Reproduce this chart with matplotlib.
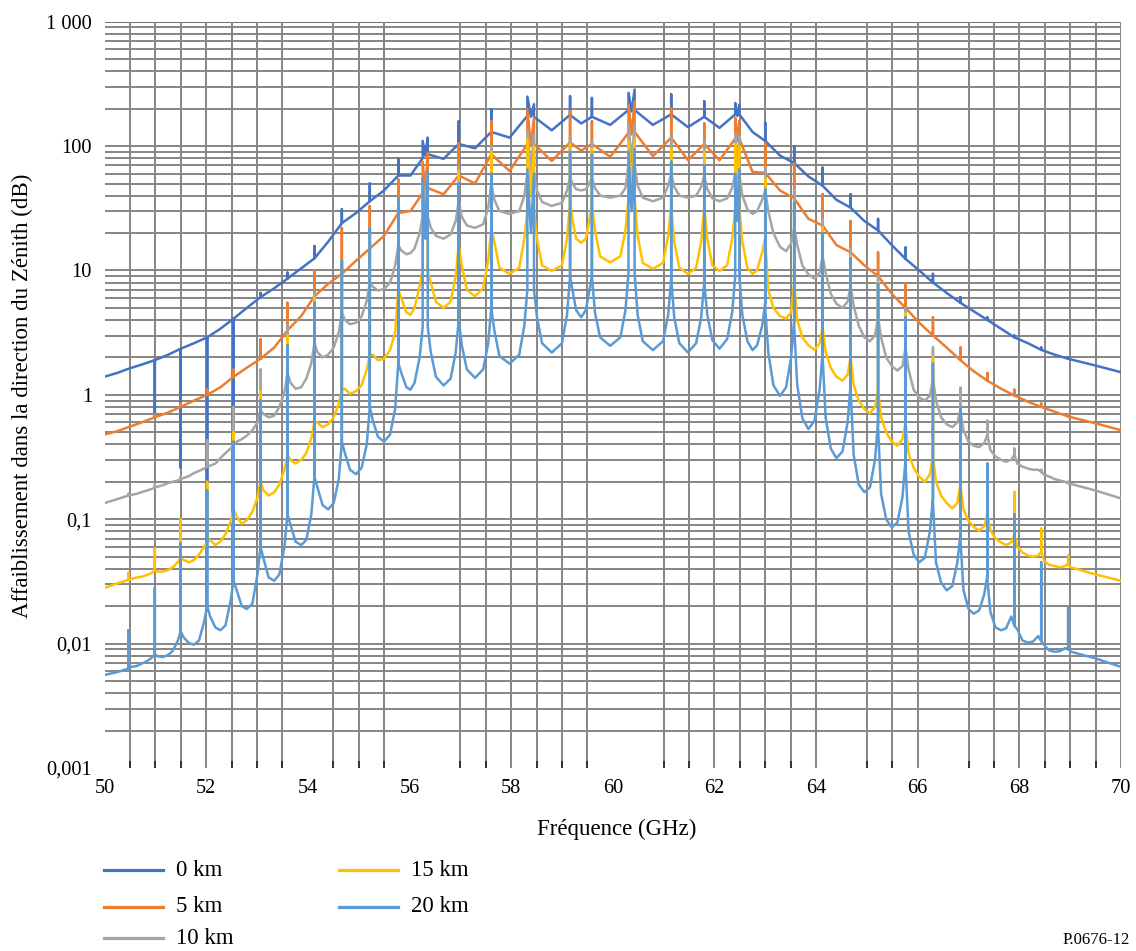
# Zenith attenuation 50-70 GHz for several altitudes (ITU-R P.676 style figure)

import matplotlib
matplotlib.use("Agg")
import matplotlib.pyplot as plt
from matplotlib.lines import Line2D
from matplotlib.ticker import NullLocator

plt.rcParams['font.family'] = ['Liberation Serif', 'DejaVu Serif']

# === Data ===
# frequency points for 0 km and 5 km (line base / spike / base, then mid-gap)
FREQ_A = [
    50.00, 50.25,
    50.47, 50.73,
    50.99, 50.99, 50.99, 51.25,
    51.50, 51.50, 51.50, 51.76,
    52.02, 52.02, 52.02, 52.28,
    52.54, 52.54, 52.54, 52.80,
    53.07, 53.07, 53.07, 53.34,
    53.60, 53.60, 53.60, 53.87,
    54.13, 54.13, 54.13, 54.40,
    54.67, 54.67, 54.67, 54.95,
    55.22, 55.22, 55.22, 55.50,
    55.78, 55.78, 55.78, 56.02,
    56.26, 56.26, 56.31, 56.36, 56.36, 56.67,
    56.97, 56.97, 56.97, 57.29,
    57.61, 57.61, 57.61, 57.97,
    58.32, 58.32, 58.39, 58.45, 58.45, 58.80,
    59.16, 59.16, 59.16, 59.38,
    59.59, 59.59, 59.59, 59.95,
    60.31, 60.31, 60.37, 60.43, 60.43, 60.79,
    61.15, 61.15, 61.15, 61.48,
    61.80, 61.80, 61.80, 62.10,
    62.41, 62.41, 62.45, 62.49, 62.49, 62.75,
    63.00, 63.00, 63.00, 63.29,
    63.57, 63.57, 63.57, 63.85,
    64.13, 64.13, 64.13, 64.40,
    64.68, 64.68, 64.68, 64.95,
    65.22, 65.22, 65.22, 65.49,
    65.76, 65.76, 65.76, 66.03,
    66.30, 66.30, 66.30, 66.57,
    66.84, 66.84, 66.84, 67.10,
    67.37, 67.37, 67.37, 67.64,
    67.90, 67.90, 67.90, 68.17,
    68.43, 68.43, 68.43, 68.70,
    68.96, 68.96, 68.96, 69.50, 70.00,
]

ATT_0KM = [
    1.40, 1.50,
    1.62, 1.75,
    1.90, 0.66, 1.90, 2.10,
    2.35, 0.26, 2.35, 2.60,
    2.90, 0.20, 2.90, 3.40,
    4.10, 0.80, 4.10, 5.00,
    6.10, 6.60, 6.10, 7.20,
    8.60, 9.60, 8.60, 10.4,
    12.5, 15.7, 12.5, 17.0,
    24.0, 31.0, 24.0, 29.0,
    36.0, 50.0, 36.0, 44.0,
    58.0, 79.0, 58.0, 58.0,
    80.0, 110, 84.0, 117, 86.0, 79.0,
    104, 158, 104, 96.0,
    130, 198, 130, 117,
    175, 250, 172, 217, 172, 134,
    178, 252, 178, 152,
    172, 244, 172, 148,
    195, 268, 190, 285, 195, 148,
    180, 261, 180, 142,
    172, 229, 172, 140,
    180, 222, 175, 215, 180, 130,
    110, 154, 110, 84.0,
    73.0, 100, 73.0, 57.0,
    48.0, 67.0, 48.0, 37.0,
    32.0, 41.0, 32.0, 25.0,
    21.0, 26.0, 21.0, 16.0,
    12.4, 15.3, 12.4, 10.0,
    8.0, 9.4, 8.0, 6.6,
    5.5, 6.1, 5.5, 4.7,
    4.0, 4.2, 4.0, 3.4,
    2.9, 3.0, 2.9, 2.6,
    2.3, 2.4, 2.3, 2.1,
    1.95, 2.0, 1.95, 1.72, 1.52,
]

ATT_5KM = [
    0.48, 0.51,
    0.55, 0.60,
    0.66, 0.70, 0.66, 0.72,
    0.80, 0.85, 0.80, 0.90,
    1.00, 1.10, 1.00, 1.15,
    1.40, 1.60, 1.40, 1.65,
    1.95, 2.80, 1.95, 2.40,
    3.30, 5.50, 3.30, 4.30,
    6.20, 10.0, 6.20, 7.80,
    9.40, 22.0, 9.40, 12.0,
    15.0, 33.0, 15.0, 19.0,
    29.0, 54.0, 29.0, 30.0,
    42.0, 75.0, 44.0, 88.0, 46.0, 41.0,
    58.0, 105, 58.0, 50.0,
    86.0, 158, 86.0, 63.0,
    104, 198, 100, 169, 104, 76.0,
    107, 191, 107, 92.0,
    104, 158, 104, 82.0,
    128, 217, 124, 228, 130, 83.0,
    117, 200, 117, 77.0,
    104, 152, 104, 77.0,
    115, 169, 110, 160, 115, 62.0,
    61.0, 105, 61.0, 44.0,
    38.0, 72.0, 38.0, 26.0,
    23.0, 41.0, 23.0, 16.0,
    14.0, 25.0, 14.0, 11.0,
    9.0, 14.0, 9.0, 6.5,
    5.0, 7.8, 5.0, 3.8,
    3.0, 4.2, 3.0, 2.4,
    1.90, 2.40, 1.90, 1.55,
    1.30, 1.50, 1.30, 1.12,
    0.99, 1.10, 0.99, 0.88,
    0.80, 0.85, 0.80, 0.73,
    0.67, 0.70, 0.67, 0.59, 0.52,
]

# frequency points for 10, 15, 20 km (line base / spike / base, then 5 points across the gap)
FREQ_B = [
    50.00, 50.25,
    50.47, 50.47, 50.47, 50.53, 50.63, 50.73, 50.83, 50.93,
    50.99, 50.99, 50.99, 51.05, 51.15, 51.25, 51.34, 51.44,
    51.50, 51.50, 51.50, 51.56, 51.66, 51.76, 51.86, 51.96,
    52.02, 52.02, 52.02, 52.08, 52.18, 52.28, 52.38, 52.48,
    52.54, 52.54, 52.54, 52.60, 52.70, 52.80, 52.91, 53.01,
    53.07, 53.07, 53.07, 53.13, 53.23, 53.34, 53.44, 53.54,
    53.60, 53.60, 53.60, 53.66, 53.76, 53.87, 53.97, 54.07,
    54.13, 54.13, 54.13, 54.19, 54.29, 54.40, 54.51, 54.61,
    54.67, 54.67, 54.67, 54.73, 54.83, 54.95, 55.06, 55.16,
    55.22, 55.22, 55.22, 55.28, 55.38, 55.50, 55.62, 55.72,
    55.78, 55.78, 55.78, 55.84, 55.94, 56.02, 56.10, 56.20,
    56.26, 56.26, 56.31, 56.36, 56.36, 56.42, 56.52, 56.67, 56.81, 56.91,
    56.97, 56.97, 56.97, 57.03, 57.13, 57.29, 57.45, 57.55,
    57.61, 57.61, 57.61, 57.67, 57.77, 57.97, 58.16, 58.26,
    58.32, 58.32, 58.39, 58.45, 58.45, 58.51, 58.61, 58.80, 59.00, 59.10,
    59.16, 59.16, 59.16, 59.22, 59.28, 59.38, 59.47, 59.53,
    59.59, 59.59, 59.59, 59.65, 59.75, 59.95, 60.15, 60.25,
    60.31, 60.31, 60.37, 60.43, 60.43, 60.49, 60.59, 60.79, 60.99, 61.09,
    61.15, 61.15, 61.15, 61.21, 61.31, 61.48, 61.64, 61.74,
    61.80, 61.80, 61.80, 61.86, 61.96, 62.10, 62.25, 62.35,
    62.41, 62.41, 62.45, 62.49, 62.49, 62.55, 62.65, 62.75, 62.84, 62.94,
    63.00, 63.00, 63.00, 63.06, 63.16, 63.29, 63.41, 63.51,
    63.57, 63.57, 63.57, 63.63, 63.73, 63.85, 63.97, 64.07,
    64.13, 64.13, 64.13, 64.19, 64.29, 64.40, 64.52, 64.62,
    64.68, 64.68, 64.68, 64.74, 64.84, 64.95, 65.06, 65.16,
    65.22, 65.22, 65.22, 65.28, 65.38, 65.49, 65.60, 65.70,
    65.76, 65.76, 65.76, 65.82, 65.92, 66.03, 66.14, 66.24,
    66.30, 66.30, 66.30, 66.36, 66.46, 66.57, 66.68, 66.78,
    66.84, 66.84, 66.84, 66.90, 67.00, 67.10, 67.21, 67.31,
    67.37, 67.37, 67.37, 67.43, 67.53, 67.64, 67.74, 67.84,
    67.90, 67.90, 67.90, 67.96, 68.06, 68.17, 68.27, 68.37,
    68.43, 68.43, 68.43, 68.49, 68.59, 68.70, 68.80, 68.90,
    68.96, 68.96, 68.96, 69.02, 69.50, 70.00,
]

ATT_10KM = [
    0.135, 0.145,
    0.155, 0.16, 0.155, 0.157, 0.16, 0.165, 0.17, 0.175,
    0.18, 0.19, 0.18, 0.183, 0.188, 0.195, 0.20, 0.205,
    0.21, 0.22, 0.21, 0.215, 0.222, 0.235, 0.245, 0.255,
    0.265, 0.43, 0.265, 0.27, 0.28, 0.31, 0.34, 0.37,
    0.40, 0.80, 0.40, 0.42, 0.44, 0.47, 0.52, 0.60,
    0.75, 1.6, 0.75, 0.70, 0.66, 0.68, 0.80, 1.05,
    1.5, 3.6, 1.5, 1.25, 1.12, 1.15, 1.35, 1.8,
    2.6, 6.5, 2.6, 2.2, 2.0, 2.1, 2.4, 3.2,
    4.6, 12, 4.6, 4.0, 3.7, 3.8, 4.3, 5.7,
    8.0, 22, 8.0, 7.4, 6.9, 7.1, 8.0, 11,
    16, 33, 16, 14.5, 13.5, 13.8, 15, 20,
    27, 55, 30, 60, 27, 22, 19, 18, 19.5, 25,
    36, 67, 36, 27, 23, 22, 23.5, 32,
    50, 99, 50, 37, 30, 28.5, 30, 40,
    60, 132, 63, 125, 60, 44, 35.5, 33, 35, 44,
    56, 117, 56, 49, 45, 44, 45, 49,
    56, 110, 56, 46, 40, 38.5, 40, 46,
    72, 150, 74, 150, 72, 48, 38.5, 36, 38.5, 48,
    60, 120, 60, 47, 40, 38.5, 40, 47,
    58, 110, 58, 45, 38, 36, 38, 46,
    60, 125, 62, 120, 60, 40, 31, 28.5, 30, 37,
    44, 67, 44, 30, 20, 15.5, 14.3, 16.5,
    22, 45, 22, 16, 11, 9.3, 8.6, 9.6,
    13, 26, 13, 9.5, 6.5, 5.4, 5.0, 5.6,
    7.5, 15, 7.5, 5.2, 3.6, 2.9, 2.7, 3.0,
    4.2, 9.0, 4.2, 2.9, 2.0, 1.7, 1.57, 1.7,
    2.4, 5.0, 2.4, 1.6, 1.1, 0.95, 0.90, 0.98,
    1.35, 2.4, 1.35, 0.90, 0.66, 0.58, 0.55, 0.60,
    0.75, 1.14, 0.75, 0.52, 0.42, 0.39, 0.38, 0.41,
    0.48, 0.62, 0.48, 0.36, 0.32, 0.30, 0.29, 0.30,
    0.33, 0.37, 0.33, 0.28, 0.265, 0.255, 0.25, 0.25,
    0.24, 0.25, 0.24, 0.228, 0.22, 0.21, 0.205, 0.20,
    0.195, 0.20, 0.195, 0.192, 0.17, 0.147,
]

ATT_15KM = [
    0.028, 0.0305,
    0.0325, 0.037, 0.0325, 0.033, 0.034, 0.0345, 0.0355, 0.037,
    0.0385, 0.058, 0.0385, 0.038, 0.038, 0.039, 0.041, 0.045,
    0.049, 0.10, 0.049, 0.047, 0.045, 0.047, 0.052, 0.060,
    0.066, 0.20, 0.066, 0.068, 0.062, 0.066, 0.076, 0.095,
    0.12, 0.50, 0.12, 0.105, 0.092, 0.098, 0.115, 0.15,
    0.20, 1.07, 0.20, 0.17, 0.155, 0.165, 0.19, 0.25,
    0.33, 3.0, 0.33, 0.30, 0.28, 0.30, 0.34, 0.45,
    0.60, 6.0, 0.60, 0.60, 0.55, 0.58, 0.66, 0.85,
    1.1, 12, 1.1, 1.12, 1.02, 1.07, 1.2, 1.6,
    2.1, 22, 2.1, 2.1, 1.9, 1.95, 2.3, 3.2,
    7.0, 35, 7.0, 6.0, 4.6, 4.4, 5.0, 7.5,
    10, 50, 20, 60, 10, 8.0, 5.6, 5.0, 5.6, 9.0,
    16, 63, 16, 11, 7.0, 6.2, 7.2, 12,
    22, 90, 22, 17, 10.5, 9.4, 10.5, 18,
    30, 115, 40, 100, 30, 18, 11, 9.9, 11, 18,
    35, 104, 35, 24, 18, 16.7, 18, 24,
    35, 95, 35, 21, 13, 11.6, 13, 21,
    38, 110, 45, 115, 38, 19, 11.5, 10.3, 11.5, 19,
    33, 95, 33, 17, 10.5, 9.4, 10.5, 17,
    32, 90, 32, 18, 11, 9.9, 11, 18,
    32, 104, 40, 100, 32, 17, 10.5, 9.4, 10, 14,
    18, 55, 18, 7.0, 5.0, 4.3, 4.1, 4.6,
    8.0, 35, 8.0, 4.0, 2.9, 2.5, 2.3, 2.6,
    3.5, 22, 3.5, 2.2, 1.65, 1.4, 1.3, 1.45,
    2.0, 13, 2.0, 1.2, 0.9, 0.77, 0.71, 0.80,
    1.1, 8.0, 1.1, 0.66, 0.50, 0.42, 0.39, 0.44,
    0.60, 4.5, 0.60, 0.34, 0.26, 0.22, 0.20, 0.23,
    0.32, 2.0, 0.32, 0.20, 0.155, 0.135, 0.122, 0.135,
    0.19, 0.79, 0.19, 0.12, 0.097, 0.087, 0.081, 0.088,
    0.11, 0.28, 0.11, 0.082, 0.070, 0.065, 0.062, 0.065,
    0.075, 0.166, 0.075, 0.060, 0.054, 0.051, 0.050, 0.051,
    0.055, 0.084, 0.055, 0.046, 0.043, 0.042, 0.041, 0.042,
    0.044, 0.051, 0.043, 0.041, 0.036, 0.032,
]

ATT_20KM = [
    0.0056, 0.0059,
    0.0063, 0.0128, 0.0063, 0.0065, 0.0066, 0.0069, 0.0072, 0.0077,
    0.0082, 0.028, 0.0082, 0.0079, 0.0078, 0.0081, 0.0087, 0.0105,
    0.0125, 0.064, 0.0125, 0.0112, 0.0101, 0.0098, 0.0106, 0.0150,
    0.020, 0.17, 0.020, 0.0165, 0.0135, 0.0128, 0.0140, 0.022,
    0.032, 0.42, 0.032, 0.027, 0.020, 0.019, 0.021, 0.036,
    0.060, 0.90, 0.060, 0.048, 0.034, 0.032, 0.036, 0.060,
    0.11, 2.5, 0.11, 0.090, 0.066, 0.062, 0.068, 0.11,
    0.22, 5.5, 0.22, 0.18, 0.13, 0.12, 0.135, 0.21,
    0.42, 12, 0.42, 0.34, 0.25, 0.23, 0.26, 0.40,
    0.80, 22, 0.80, 0.62, 0.46, 0.42, 0.48, 0.78,
    1.8, 38, 1.8, 1.5, 1.15, 1.1, 1.25, 2.0,
    3.5, 55, 18, 62, 3.5, 2.2, 1.4, 1.19, 1.35, 2.2,
    4.0, 50, 4.0, 2.5, 1.6, 1.37, 1.6, 2.6,
    5.0, 60, 5.0, 3.3, 2.05, 1.78, 2.1, 3.6,
    7.0, 65, 20, 60, 7.0, 4.2, 2.6, 2.19, 2.6, 4.4,
    9.0, 90, 9.0, 6.5, 4.8, 4.2, 4.8, 6.5,
    9.0, 85, 9.0, 4.6, 2.9, 2.48, 2.9, 4.8,
    9.5, 90, 30, 95, 9.5, 4.4, 2.7, 2.29, 2.7, 4.4,
    8.5, 75, 8.5, 4.2, 2.6, 2.19, 2.6, 4.2,
    8.0, 70, 8.0, 4.4, 2.75, 2.35, 2.8, 4.6,
    9.0, 60, 25, 65, 9.0, 4.4, 2.7, 2.29, 2.5, 3.6,
    5.5, 45, 5.0, 2.2, 1.2, 0.98, 1.15, 2.0,
    4.0, 35, 3.5, 1.2, 0.65, 0.53, 0.62, 1.1,
    2.2, 20, 2.0, 0.65, 0.37, 0.31, 0.35, 0.60,
    1.2, 12.6, 1.1, 0.33, 0.19, 0.165, 0.18, 0.30,
    0.60, 7.8, 0.55, 0.16, 0.10, 0.086, 0.094, 0.15,
    0.30, 4.2, 0.28, 0.08, 0.052, 0.045, 0.049, 0.08,
    0.15, 1.78, 0.14, 0.045, 0.031, 0.0268, 0.029, 0.045,
    0.075, 0.79, 0.07, 0.027, 0.019, 0.0174, 0.0185, 0.025,
    0.035, 0.28, 0.033, 0.018, 0.0135, 0.0128, 0.0133, 0.0165,
    0.014, 0.11, 0.014, 0.013, 0.0106, 0.0102, 0.0104, 0.0115,
    0.0105, 0.045, 0.0105, 0.0097, 0.0088, 0.0086, 0.0087, 0.0092,
    0.0090, 0.0197, 0.0090, 0.0086, 0.0076, 0.0065,
]

LABELS = ['0 km', '5 km', '10 km', '15 km', '20 km']
COLORS = ['#4472C4', '#ED7D31', '#A5A5A5', '#FFC000', '#5B9BD5']

XTICKS = [50, 52, 54, 56, 58, 60, 62, 64, 66, 68, 70]
YTICKS = [0.001, 0.01, 0.1, 1, 10, 100, 1000]
YTICK_LABELS = ['0,001', '0,01', '0,1', '1', '10', '100', '1 000']
# vertical grid lines present in the original (some are missing there)
VGRID = [50.5, 51, 51.5, 52, 52.5, 53, 53.5, 54.5, 55, 55.5, 57, 57.5, 58, 58.5,
         59, 59.5, 61, 61.5, 62, 62.5, 63, 63.5, 64, 65, 65.5, 66, 67, 67.5,
         68, 68.5, 69, 69.5, 70]

# === Figure ===
W, H = 1136, 951
fig = plt.figure(figsize=(W / 100, H / 100), dpi=100)
ax = fig.add_axes([104.5 / W, 1 - 768 / H, 1016.5 / W, (768 - 21.7) / H])
ax.set_xlim(50, 70)
ax.set_yscale('log')
ax.set_ylim(1e-3, 1e3)
for sp in ax.spines.values():
    sp.set_visible(False)

GRID = '#858585'
for dec in [0.001, 0.01, 0.1, 1, 10, 100]:
    for k in range(1, 10):
        v = dec * k
        if v > 0.0011:
            ax.axhline(v, color=GRID, lw=1.4, zorder=1)
ax.axhline(1000, color='#555555', lw=1.2, zorder=1)
for v in VGRID:
    ax.axvline(v, color=GRID, lw=1.4, zorder=1)

series = [(FREQ_A, ATT_0KM), (FREQ_A, ATT_5KM), (FREQ_B, ATT_10KM),
          (FREQ_B, ATT_15KM), (FREQ_B, ATT_20KM)]
for (fx, fy), c, lab in zip(series, COLORS, LABELS):
    ax.plot(fx, fy, color=c, lw=1.8, label=lab, zorder=3)

ax.set_xticks(XTICKS)
ax.set_xticklabels([str(t) for t in XTICKS])
ax.set_xticks(VGRID, minor=True)
ax.tick_params(axis='x', which='major', length=0, pad=8, labelsize=14.7)
ax.tick_params(axis='x', which='minor', direction='in', length=5, width=1.4, color='#333333')
ax.yaxis.set_minor_locator(NullLocator())
ax.set_yticks(YTICKS)
ax.set_yticklabels(YTICK_LABELS)
ax.tick_params(axis='y', length=0, pad=9, labelsize=14.7)

fig.text(22 / W, 1 - 396 / H, 'Affaiblissement dans la direction du Zénith (dB)',
         rotation=90, ha='center', va='center', fontsize=16.5)
fig.text(617 / W, 1 - 829 / H, 'Fréquence (GHz)', ha='center', va='center', fontsize=16.5)

# === Legend (two columns under the plot) ===
leg_pos = [(104, 163, 176, 870), (104, 163, 176, 907), (104, 163, 176, 938),
           (339, 398, 411, 870), (339, 398, 411, 907)]
for (x0, x1, tx, y), c, lab in zip(leg_pos, COLORS, LABELS):
    fig.add_artist(Line2D([x0 / W, x1 / W], [1 - y / H, 1 - y / H], color=c, lw=2.3,
                          transform=fig.transFigure))
    fig.text(tx / W, 1 - y / H, lab, ha='left', va='center', fontsize=16.5)

fig.text(1130 / W, 1 - 940 / H, 'P.0676-12', ha='right', va='center', fontsize=12)

fig.savefig('out.png', dpi=100, facecolor='white')
